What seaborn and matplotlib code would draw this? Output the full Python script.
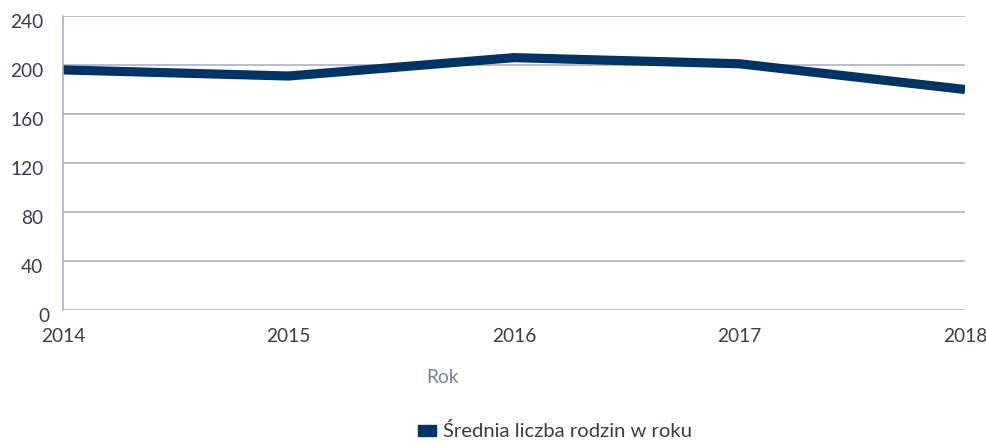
import matplotlib
matplotlib.use("Agg")
import matplotlib.pyplot as plt
import matplotlib.transforms as mtransforms
from matplotlib.patches import Patch
import seaborn as sns
import pandas as pd

years = [2014, 2015, 2016, 2017, 2018]
families = [196, 191, 206, 201, 180]
y_ticks = [0, 40, 80, 120, 160, 200, 240]
series_name = "Średnia liczba rodzin w roku"
x_title = "Rok"

LINE = "#003366"
GRID = "#A7A9CB"
TEXT = "#3C3C50"
TITLE = "#7D7FA3"

sns.set_theme(style="white")
plt.rcParams["font.family"] = ["Lato", "DejaVu Sans"]

df = pd.DataFrame({"Rok": years, "Rodziny": families})

fig = plt.figure(figsize=(9.87, 4.43), dpi=100)
ax = fig.add_axes([0.0638, 0.3002, 0.9139, 0.6637])

sns.lineplot(data=df, x="Rok", y="Rodziny", ax=ax, color=LINE, linewidth=6.6,
             solid_joinstyle="miter", solid_capstyle="butt", legend=False)

ax.set_xlim(2014, 2018)
ax.set_ylim(0, 240)
ax.set_xticks(years)
ax.set_xticklabels([str(y) for y in years])
ax.set_yticks(y_ticks)
ax.set_yticklabels([str(v) for v in y_ticks])
ax.yaxis.grid(True, color=GRID, linewidth=1.1)
ax.set_axisbelow(True)
for side in ("top", "right", "bottom"):
    ax.spines[side].set_visible(False)
ax.spines["left"].set_color(GRID)
ax.spines["left"].set_linewidth(1.1)

ax.tick_params(axis="both", length=0, labelsize=13.8, labelcolor=TEXT)
ax.tick_params(axis="x", pad=13)
ax.tick_params(axis="y", pad=14)
ax.set_xlabel("")
ax.set_ylabel("")

# y labels sit slightly below their gridlines
shift = mtransforms.ScaledTranslation(0, -5 / 100, fig.dpi_scale_trans)
for lbl in ax.get_yticklabels():
    lbl.set_transform(lbl.get_transform() + shift)
zero_lbl = ax.get_yticklabels()[0]
zero_lbl.set_transform(zero_lbl.get_transform()
                       + mtransforms.ScaledTranslation(6 / 100, 0, fig.dpi_scale_trans))

fig.text(0.448, 0.147, x_title, ha="center", va="center", fontsize=13.8, color=TITLE)

handle = Patch(facecolor=LINE, edgecolor=LINE)
leg = fig.legend([handle], [series_name], loc="center", bbox_to_anchor=(0.562, 0.026),
                 frameon=False, fontsize=14.6, handlelength=0.9, handleheight=0.5,
                 handletextpad=0.35, labelcolor=TEXT, borderpad=0.2)

fig.savefig("out.png", dpi=100, facecolor="white")
